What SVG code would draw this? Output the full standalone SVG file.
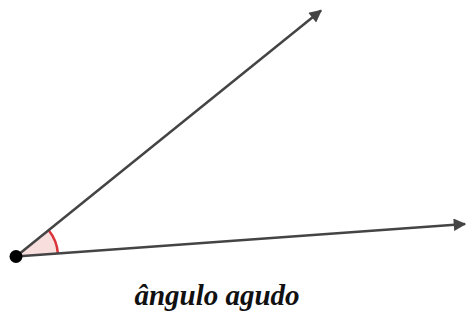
<svg xmlns="http://www.w3.org/2000/svg" width="467" height="320" viewBox="0 0 467 320">
<style>
.ray{stroke:#444;stroke-width:2.5;fill:none;marker-end:url(#ah)}
.lbl{font-family:"Liberation Serif",serif;font-style:italic;font-weight:bold;font-size:29px;fill:#111}
</style>
<defs>
<marker id="ah" viewBox="0 0 10 10" refX="9" refY="5" markerWidth="8" markerHeight="5" markerUnits="strokeWidth" orient="auto">
<path d="M0,0 L10,5 L0,10 z" fill="#444"/>
</marker>
</defs>
<rect width="467" height="320" fill="#fff"/>
<g id="angle">
<path d="M16,256.5 L48.7,230.2 A42,42 0 0 1 57.9,253.5 Z" fill="#f9dede" stroke="none"/>
<path d="M48.7,230.2 A42,42 0 0 1 57.9,253.5" fill="none" stroke="#d9343a" stroke-width="2.5"/>
</g>
<g id="connectors">
<line class="ray" x1="16" y1="256.5" x2="321" y2="10.5"/>
<line class="ray" x1="16" y1="256.5" x2="465" y2="224"/>
</g>
<g id="vertex">
<circle cx="16" cy="256.5" r="6.5" fill="#000"/>
</g>
<g id="label">
<text class="lbl" x="217" y="305" text-anchor="middle">ângulo agudo</text>
</g>
</svg>
